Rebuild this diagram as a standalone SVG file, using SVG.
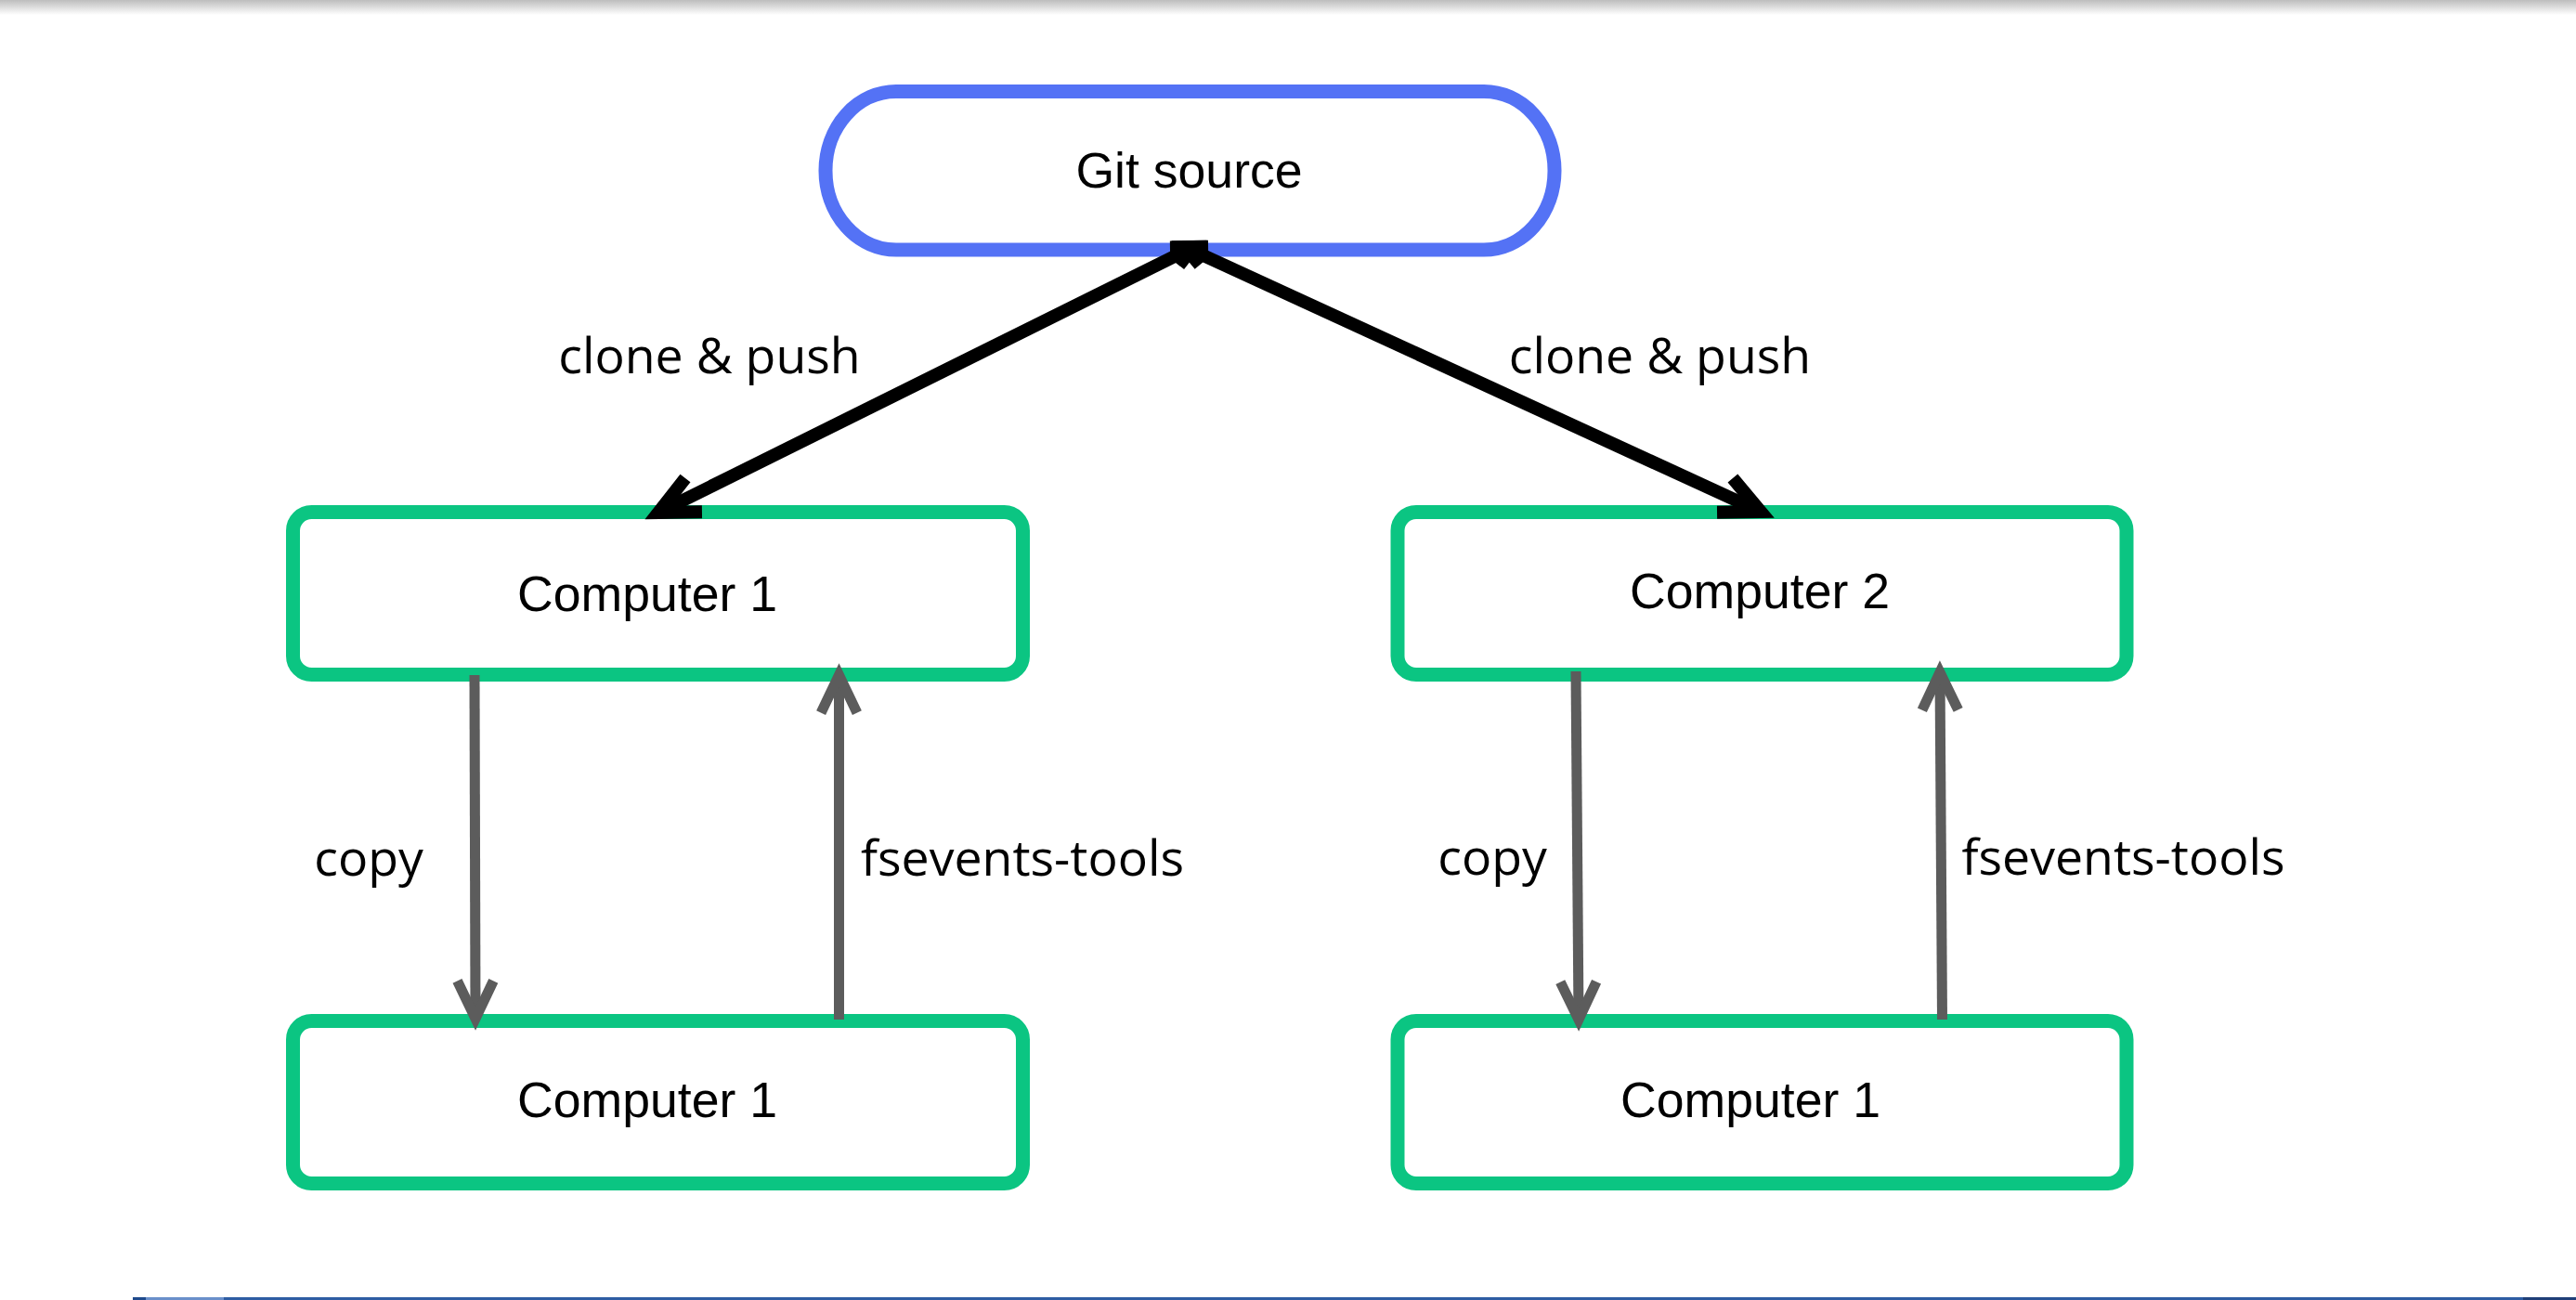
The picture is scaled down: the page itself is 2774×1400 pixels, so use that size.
<svg xmlns="http://www.w3.org/2000/svg" width="2774" height="1400" viewBox="0 0 2774 1400">
  <style>
    .node-text { font-family: "Liberation Sans", Arial, sans-serif; font-size: 53.6px; fill: #000; text-anchor: middle; }
    .edge-text { font-family: "Open Sans", "Noto Sans", sans-serif; font-size: 53.6px; fill: #000; text-anchor: middle; }
    .git { fill: #fff; stroke: #5472f5; stroke-width: 15; }
    .comp { fill: #fff; stroke: #0bc582; stroke-width: 15; }
    .blk { fill: none; stroke: #000; stroke-width: 14; stroke-linecap: butt; }
    .gry { fill: none; stroke: #5c5c5c; stroke-width: 11; stroke-linecap: butt; }
  </style>
  <defs>
    <linearGradient id="topshade" x1="0" y1="0" x2="0" y2="1">
      <stop offset="0" stop-color="#bdbdbd"/>
      <stop offset="1" stop-color="#ffffff"/>
    </linearGradient>
    <marker id="blkEnd" markerUnits="userSpaceOnUse" markerWidth="100" markerHeight="100" refX="0" refY="0" orient="auto-start-reverse" overflow="visible">
      <path d="M-42.4,-20.2 L0,0 L-42.4,20.2" fill="none" stroke="#000" stroke-width="14" stroke-linejoin="miter" stroke-linecap="butt"/>
    </marker>
    <marker id="blkStart" markerUnits="userSpaceOnUse" markerWidth="100" markerHeight="100" refX="0" refY="0" orient="auto-start-reverse" overflow="visible">
      <path d="M-22.6,-10.8 L0,0 L-22.6,10.8" fill="none" stroke="#000" stroke-width="14" stroke-linejoin="miter" stroke-linecap="butt"/>
    </marker>
    <marker id="gryEnd" markerUnits="userSpaceOnUse" markerWidth="100" markerHeight="100" refX="0" refY="0" orient="auto" overflow="visible">
      <path d="M-40.6,-19.4 L0,0 L-40.6,19.4" fill="none" stroke="#5c5c5c" stroke-width="11" stroke-linejoin="miter" stroke-linecap="butt"/>
    </marker>
  </defs>

  <rect x="0" y="0" width="2774" height="1400" fill="#ffffff"/>
  <rect x="0" y="0" width="2774" height="16" fill="url(#topshade)"/>
  <rect x="143" y="1397" width="2631" height="3" fill="#2e5da3"/>
  <rect x="143" y="1397" width="14" height="3" fill="#1f4a8c"/>
  <rect x="157" y="1397" width="84" height="3" fill="#6a8fca"/>
  <rect x="2717" y="1397" width="57" height="3" fill="#1f3f78"/>

  <g id="git-source">
    <rect class="git" x="889" y="98.5" width="785" height="170.5" rx="76" ry="85"/>
    <text class="node-text" x="1280.5" y="201.7">Git source</text>
  </g>
  <g id="computer1-top">
    <rect class="comp" x="315.5" y="551.5" width="786" height="175" rx="20" ry="20"/>
    <text class="node-text" x="697" y="658">Computer 1</text>
  </g>
  <g id="computer2-top">
    <rect class="comp" x="1505" y="551.5" width="785" height="175" rx="20" ry="20"/>
    <text class="node-text" x="1895" y="655">Computer 2</text>
  </g>
  <g id="computer1-bottom-left">
    <rect class="comp" x="315.5" y="1099.5" width="786" height="175" rx="20" ry="20"/>
    <text class="node-text" x="697" y="1203">Computer 1</text>
  </g>
  <g id="computer1-bottom-right">
    <rect class="comp" x="1505" y="1099.5" width="785" height="175" rx="20" ry="20"/>
    <text class="node-text" x="1885" y="1203">Computer 1</text>
  </g>

  <g id="connectors">
    <line class="blk" x1="1285" y1="266" x2="709" y2="552" marker-start="url(#blkStart)" marker-end="url(#blkEnd)"/>
    <line class="blk" x1="1276" y1="266" x2="1896" y2="551" marker-start="url(#blkStart)" marker-end="url(#blkEnd)"/>
    <line class="gry" x1="511" y1="727" x2="512" y2="1097" marker-end="url(#gryEnd)"/>
    <line class="gry" x1="903.5" y1="1098" x2="903.5" y2="727" marker-end="url(#gryEnd)"/>
    <line class="gry" x1="1697" y1="723" x2="1700" y2="1098" marker-end="url(#gryEnd)"/>
    <line class="gry" x1="2091.5" y1="1098" x2="2089" y2="724" marker-end="url(#gryEnd)"/>
    <text class="edge-text" x="764" y="402">clone &amp; push</text>
    <text class="edge-text" x="1787.5" y="402">clone &amp; push</text>
    <text class="edge-text" x="397" y="943">copy</text>
    <text class="edge-text" x="1101" y="943">fsevents-tools</text>
    <text class="edge-text" x="1607" y="942">copy</text>
    <text class="edge-text" x="2286.5" y="942">fsevents-tools</text>
  </g>
</svg>
